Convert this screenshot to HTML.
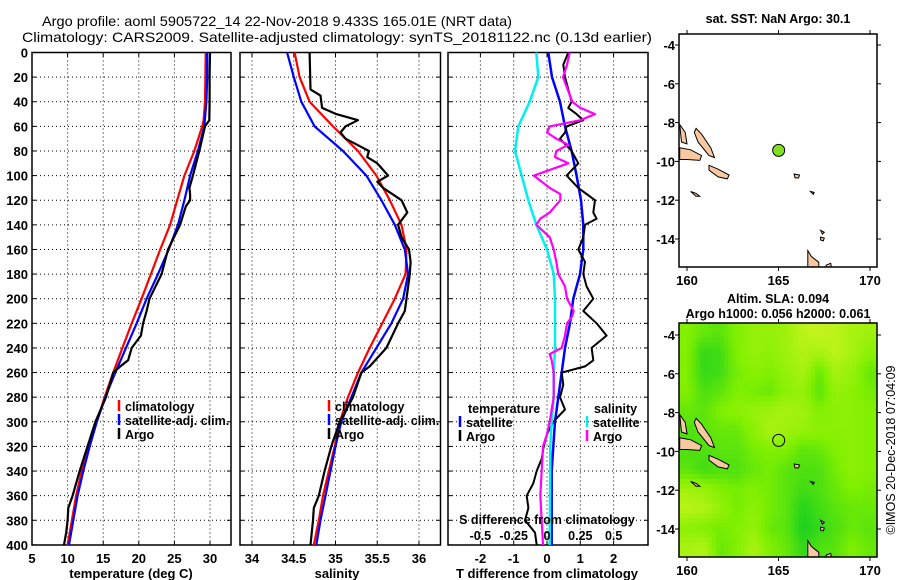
<!DOCTYPE html>
<html><head><meta charset="utf-8">
<style>
html,body{margin:0;padding:0;background:#fff;}
svg{display:block;font-family:"Liberation Sans",Arial,sans-serif;}
</style></head>
<body>
<svg id="fig" width="900" height="580" viewBox="0 0 900 580" xmlns="http://www.w3.org/2000/svg">
<text x="42" y="26" font-size="14" textLength="470" lengthAdjust="spacingAndGlyphs">Argo profile: aoml 5905722_14 22-Nov-2018 9.433S 165.01E (NRT data)</text>
<text x="22" y="42" font-size="14" textLength="630" lengthAdjust="spacingAndGlyphs">Climatology: CARS2009. Satellite-adjusted climatology: synTS_20181122.nc (0.13d earlier)</text>
<g id="g"></g>
</svg>
<script>
// ---------- DATA ----------
const depthTicks=[0,20,40,60,80,100,120,140,160,180,200,220,240,260,280,300,320,340,360,380,400];
const tempTicks=[5,10,15,20,25,30];
const salTicks=[34,34.5,35,35.5,36];
const salTickLabels=["34","34.5","35","35.5","36"];
const tdiffTicks=[-2,-1,0,1,2];
const sdiffTicks=[-0.5,-0.25,0,0.25,0.5];
const sdiffTickLabels=["-0.5","-0.25","0","0.25","0.5"];

const tClimDepth=[0,20,40,55,60,80,100,120,140,160,180,200,220,240,260,280,300,320,340,360,380,400];
const tClimVal=[29.4,29.35,29.3,29.1,28.9,27.8,26.4,25.4,24.4,23.0,21.7,20.4,19.0,17.7,16.4,15.2,14.1,13.0,12.0,11.2,10.6,10.0];
const tSatDepth=[0,20,40,60,80,100,120,140,160,180,200,220,240,260,280,300,320,340,360,380,400];
const tSatVal=[29.6,29.6,29.5,29.2,28.3,27.2,26.4,25.5,24.2,22.7,21.1,19.7,18.2,16.7,15.3,14.1,13.1,12.2,11.4,10.8,10.2];
const tArgoDepth=[0,20,40,55,60,80,100,110,115,120,125,140,160,180,200,210,220,230,240,250,255,260,280,300,320,340,350,360,370,380,390,400];
const tArgoVal=[30.0,29.95,29.95,29.9,29.3,28.5,27.6,27.1,27.2,27.2,26.6,25.8,24.1,23.2,21.5,21.1,20.6,20.3,19.0,18.5,17.4,16.4,15.4,13.9,12.8,11.7,11.2,10.7,10.1,10.0,9.8,9.5];

const sClimDepth=[0,20,40,60,80,100,120,140,160,180,200,220,240,260,280,300,320,340,360,380,400];
const sClimVal=[34.51,34.57,34.69,34.97,35.27,35.49,35.65,35.79,35.85,35.84,35.71,35.56,35.41,35.27,35.15,35.05,34.99,34.92,34.85,34.80,34.74];
const sSatDepth=[0,20,40,60,80,100,120,140,160,180,200,220,240,260,280,300,320,340,360,380,400];
const sSatVal=[34.42,34.50,34.59,34.75,35.09,35.37,35.55,35.71,35.83,35.87,35.81,35.67,35.49,35.31,35.19,35.07,35.00,34.94,34.88,34.82,34.77];
const sArgoDepth=[0,30,35,45,50,55,60,65,70,75,80,85,90,100,105,110,120,130,140,150,160,170,180,200,210,220,240,255,260,280,300,320,340,360,370,380,400];
const sArgoVal=[34.69,34.70,34.82,34.84,35.01,35.27,35.12,35.06,35.12,35.26,35.40,35.38,35.50,35.63,35.50,35.57,35.79,35.86,35.75,35.79,35.88,35.90,35.89,35.85,35.83,35.75,35.61,35.41,35.31,35.21,35.05,34.95,34.87,34.80,34.74,34.73,34.70];

const dtSatDepth=[0,20,40,60,80,100,120,140,160,180,200,220,240,260,280,300,320,340,400];
const dtSatVal=[0.04,0.15,0.39,0.54,0.74,0.89,1.02,1.09,1.09,0.99,0.79,0.69,0.54,0.44,0.34,0.24,0.19,0.14,0.14];
const dtArgoDepth=[0,10,20,30,40,45,50,55,60,65,70,80,90,100,110,120,130,135,140,150,160,170,180,190,200,210,220,230,240,250,255,260,270,280,290,300,310,320,330,340,350,360,370,380,390,400];
const dtArgoVal=[0.64,0.49,0.54,0.64,0.74,0.64,0.89,1.09,0.59,0.54,0.39,0.74,0.94,0.59,0.94,1.44,1.39,1.49,1.14,1.09,0.94,1.14,1.09,1.19,1.39,1.09,1.49,1.79,1.34,1.39,1.14,0.44,0.49,0.39,0.54,0.19,0.0,-0.1,-0.16,-0.31,-0.41,-0.61,-0.56,-0.66,-0.36,-0.31];
const dsSatDepth=[0,20,40,60,80,100,120,140,160,180,200,240,260,280,300,320,400];
const dsSatVal=[-0.08,-0.065,-0.13,-0.215,-0.24,-0.19,-0.14,-0.08,0.0,0.05,0.06,0.06,0.05,0.05,0.035,0.025,0.02];
const dsArgoDepth=[0,10,20,40,45,50,55,60,65,70,75,80,85,90,100,110,115,120,130,135,140,150,160,170,180,190,200,210,215,220,230,240,245,250,260,280,300,310,320,340,360,380,400];
const dsArgoVal=[0.17,0.15,0.12,0.19,0.25,0.36,0.25,0.02,0.0,0.07,0.16,0.07,0.06,0.16,-0.10,0.02,0.1,0.1,0.02,-0.05,-0.08,0.02,0.05,0.07,0.085,0.135,0.15,0.2,0.185,0.15,0.135,0.11,0.02,0.035,0.05,0.05,0.02,0.0,-0.03,-0.04,-0.05,-0.04,-0.03];

const lonTicks=[160,165,170];
const latTicks=[-4,-6,-8,-10,-12,-14];
const argoLon=165.01, argoLat=-9.433;
const slaGrid=[
[0.5,0.4,0.35,0.5,0.6,0.6,0.65,0.8,0.85,0.8,0.7,0.65],
[0.5,0.2,0.25,0.5,0.6,0.55,0.65,0.75,0.7,0.8,0.7,0.55],
[0.5,0.2,0.25,0.45,0.55,0.5,0.6,0.7,0.4,0.7,0.6,0.4],
[0.5,0.3,0.35,0.5,0.45,0.4,0.55,0.6,0.35,0.6,0.55,0.45],
[0.4,0.35,0.5,0.55,0.6,0.65,0.7,0.65,0.5,0.55,0.55,0.5],
[0.3,0.35,0.4,0.4,0.55,0.7,0.65,0.6,0.55,0.55,0.55,0.5],
[0.3,0.3,0.35,0.35,0.45,0.5,0.5,0.35,0.4,0.5,0.55,0.5],
[0.35,0.25,0.3,0.3,0.4,0.45,0.35,0.3,0.3,0.45,0.55,0.5],
[0.65,0.6,0.5,0.45,0.5,0.45,0.35,0.25,0.3,0.4,0.5,0.45],
[0.8,0.75,0.6,0.45,0.55,0.45,0.35,0.15,0.25,0.35,0.4,0.4],
[0.55,0.5,0.45,0.5,0.6,0.4,0.35,0.1,0.2,0.3,0.4,0.35],
[0.7,0.75,0.4,0.5,0.7,0.5,0.4,0.2,0.3,0.35,0.5,0.4]];
const islands=[
[[160.5,-8.3],[160.8,-8.6],[161.3,-9.3],[161.5,-9.8],[161.2,-9.7],[160.6,-9.0],[160.4,-8.5]],
[[159.6,-9.3],[160.2,-9.4],[160.8,-9.7],[160.7,-9.95],[160.0,-9.9],[159.6,-9.9]],
[[161.2,-10.2],[161.7,-10.4],[162.3,-10.7],[162.2,-10.9],[161.7,-10.8],[161.2,-10.45]],
[[159.6,-8.1],[159.9,-8.5],[160.0,-9.1],[159.7,-9.0]],
[[166.6,-14.6],[166.8,-14.9],[167.2,-15.2],[167.2,-15.5],[166.6,-15.5]],
[[167.6,-15.35],[167.85,-15.25],[167.9,-15.5],[167.6,-15.5]],
[[165.85,-10.65],[166.15,-10.7],[166.1,-10.85],[165.9,-10.85]],
[[166.75,-11.55],[166.95,-11.6],[166.9,-11.7]],
[[167.3,-13.9],[167.5,-13.95],[167.45,-14.1],[167.3,-14.05]],
[[167.3,-13.55],[167.5,-13.65],[167.4,-13.75]],
[[160.2,-11.55],[160.5,-11.65],[160.7,-11.8],[160.5,-11.8]]];

// ---------- DRAW ----------
const NS='http://www.w3.org/2000/svg';
const G=document.getElementById('g');
function el(tag,attrs,parent){const e=document.createElementNS(NS,tag);for(const k in attrs)e.setAttribute(k,attrs[k]);(parent||G).appendChild(e);return e;}
const yD=d=>52.5+d*1.231;
const Y0=52.5,Y1=545;

function panel(name,x0,x1,xs,ticks,labels,showY){
  const g=el('g',{});
  
  
  ticks.forEach(v=>{const x=xs(v);
    const l=el('line',{x1:x,x2:x,y1:Y0,y2:Y1,stroke:'#000','stroke-width':1,'stroke-dasharray':'1 3'},g);
    
    el('line',{x1:x,x2:x,y1:Y1,y2:Y1-4,stroke:'#000'},g);el('line',{x1:x,x2:x,y1:Y0,y2:Y0+4,stroke:'#000'},g);});
  depthTicks.forEach(d=>{const y=yD(d);
    if(d>0&&d<400){const l=el('line',{x1:x0,x2:x1,y1:y,y2:y,stroke:'#000','stroke-width':1,'stroke-dasharray':'1 3'},g);
    }
    el('line',{x1:x0,x2:x0+4,y1:y,y2:y,stroke:'#000'},g);el('line',{x1:x1,x2:x1-4,y1:y,y2:y,stroke:'#000'},g);
    if(showY){const t=el('text',{x:x0-4,y:y+5,'font-size':13,'font-weight':'bold','text-anchor':'end'},g);t.textContent=d;
      }});
  if(labels) ticks.forEach((v,i)=>{const t=el('text',{x:xs(v),y:563,'font-size':13,'font-weight':'bold','text-anchor':'middle'},g);t.textContent=labels[i];
    });
  const r=el('rect',{x:x0,y:Y0,width:x1-x0,height:Y1-Y0,fill:'none',stroke:'#000','stroke-width':1.5},g);
  
  return g;
}
function series(g,name,depths,vals,xs,color,w){
  const pts=depths.map((d,i)=>xs(vals[i]).toFixed(1)+','+yD(d).toFixed(1)).join(' ');
  const p=el('polyline',{points:pts,fill:'none',stroke:color,'stroke-width':w||2.2,'stroke-linejoin':'round'},g);
  
}
function label(g,name,txt,x,y,size,anchor,extra){
  const t=el('text',Object.assign({x:x,y:y,'font-size':size,'font-weight':'bold','text-anchor':anchor||'start'},extra||{}),g);t.textContent=txt;
  return t;
}
function legendItem(g,name,x,y,color,txt){
  const lg=el('g',{},g);
  
  el('line',{x1:x,x2:x,y1:y-11,y2:y,stroke:color,'stroke-width':2.5},lg);
  label(lg,name+'-text',txt,x+6,y,12.5,'start');
}

// Panel 1 temperature
const xT=v=>32+(v-5)*7.12;
const p1=panel('temperature-panel',32,231,xT,tempTicks,tempTicks.map(String),true);
series(p1,'temp-climatology-line',tClimDepth,tClimVal,xT,'#ff0000');
series(p1,'temp-satellite-line',tSatDepth,tSatVal,xT,'#0000ff');
series(p1,'temp-argo-line',tArgoDepth,tArgoVal,xT,'#000000');
label(p1,'x-axis-title','temperature (deg C)',131,578,13,'middle');
legendItem(p1,'legend-climatology',119,411,'#ff0000','climatology');
legendItem(p1,'legend-satellite-adj',119,425,'#0000ff','satellite-adj. clim.');
legendItem(p1,'legend-argo',119,439,'#000000','Argo');

// Panel 2 salinity
const xS=v=>252+(v-34)*83.5;
const p2=panel('salinity-panel',240,440.5,xS,salTicks,salTickLabels,false);
series(p2,'sal-climatology-line',sClimDepth,sClimVal,xS,'#ff0000');
series(p2,'sal-satellite-line',sSatDepth,sSatVal,xS,'#0000ff');
series(p2,'sal-argo-line',sArgoDepth,sArgoVal,xS,'#000000');
label(p2,'x-axis-title','salinity',337,578,13,'middle');
legendItem(p2,'legend-climatology',329,411,'#ff0000','climatology');
legendItem(p2,'legend-satellite-adj',329,425,'#0000ff','satellite-adj. clim.');
legendItem(p2,'legend-argo',329,439,'#000000','Argo');

// Panel 3 differences
const xDT=v=>547+v*33.3;
const xDS=v=>547+v*133.3;
const p3=panel('difference-panel',448,648,xDT,tdiffTicks,tdiffTicks.map(String),false);
series(p3,'tdiff-satellite-line',dtSatDepth,dtSatVal,xDT,'#0000ff',2.5);
series(p3,'tdiff-argo-line',dtArgoDepth,dtArgoVal,xDT,'#000000',2);
series(p3,'sdiff-satellite-line',dsSatDepth,dsSatVal,xDS,'#00f0f0',2.5);
series(p3,'sdiff-argo-line',dsArgoDepth,dsArgoVal,xDS,'#ff00ff',2.2);
label(p3,'x-axis-title','T difference from climatology',547,578,13,'middle');
label(p3,'s-axis-title','S difference from climatology',547,524,12.5,'middle');
sdiffTicks.forEach((v,i)=>{label(p3,'s-tick-label',sdiffTickLabels[i],xDS(v),540,12.5,'middle');});
label(p3,'legend-temperature-heading','temperature',468,413,12.5,'start');
legendItem(p3,'legend-t-satellite',460,427,'#0000ff','satellite');
legendItem(p3,'legend-t-argo',460,441,'#000000','Argo');
label(p3,'legend-salinity-heading','salinity',594,413,12.5,'start');
legendItem(p3,'legend-s-satellite',587,427,'#00f0f0','satellite');
legendItem(p3,'legend-s-argo',587,441,'#ff00ff','Argo');

// Maps
const MX0=679,MX1=877;
const lonX=l=>687+(l-160)*18.3;
function slaColor(v){
  const c0=[0,200,40],c1=[130,240,0],c2=[225,245,40];
  let a,b,t; if(v<0.5){a=c0;b=c1;t=v/0.5;}else{a=c1;b=c2;t=(v-0.5)/0.5;}
  t=Math.max(0,Math.min(1,t));
  return 'rgb('+a.map((x,i)=>Math.round(x+(b[i]-x)*t)).join(',')+')';
}
function sampleSla(fr,fc){
  const rows=slaGrid.length,cols=slaGrid[0].length;
  fr=Math.max(0,Math.min(rows-1,fr));fc=Math.max(0,Math.min(cols-1,fc));
  const r0=Math.floor(fr),c0=Math.floor(fc),r1=Math.min(rows-1,r0+1),c1=Math.min(cols-1,c0+1);
  const tr=fr-r0,tc=fc-c0;
  const a=slaGrid[r0][c0]*(1-tc)+slaGrid[r0][c1]*tc, b=slaGrid[r1][c0]*(1-tc)+slaGrid[r1][c1]*tc;
  return a*(1-tr)+b*tr;
}
function map(name,top,bot,lat4y,heat){
  const latY=l=>lat4y+(-4-l)*19.4;
  const g=el('g',{});
  
  const cp=el('clipPath',{id:name+'-clip'},g);el('rect',{x:MX0,y:top,width:MX1-MX0,height:bot-top},cp);
  const inner=el('g',{'clip-path':'url(#'+name+'-clip)'},g);
  if(heat){
    const rows=slaGrid.length,cols=slaGrid[0].length,S=4;
    const cw=(MX1-MX0)/(cols*S),rh=(bot-top)/(rows*S);
    for(let r=0;r<rows*S;r++)for(let c=0;c<cols*S;c++){
      const v=sampleSla((r+0.5)/S-0.5,(c+0.5)/S-0.5);
      const cell=el('rect',{x:(MX0+c*cw).toFixed(2),y:(top+r*rh).toFixed(2),width:(cw+0.6).toFixed(2),height:(rh+0.6).toFixed(2),fill:slaColor(v)},inner);
      
      
    }
  }
  islands.forEach(poly=>{
    const p=el('polygon',{points:poly.map(q=>lonX(q[0]).toFixed(1)+','+latY(q[1]).toFixed(1)).join(' '),fill:'#f8c8a0',stroke:'#000','stroke-width':1},inner);
    });
  const dot=el('circle',{cx:lonX(argoLon),cy:latY(argoLat),r:6,fill:heat?'none':'#80e020',stroke:'#000','stroke-width':1},g);
  
  el('rect',{x:MX0,y:top,width:MX1-MX0,height:bot-top,fill:'none',stroke:'#000','stroke-width':1.5},g);
  lonTicks.forEach(l=>{const x=lonX(l);el('line',{x1:x,x2:x,y1:top,y2:top-4,stroke:'#000'},g);el('line',{x1:x,x2:x,y1:bot,y2:bot+4,stroke:'#000'},g);
    label(g,'lon-tick-label',String(l),x,bot+18,13,'middle');});
  latTicks.forEach(l=>{const y=latY(l);el('line',{x1:MX0,x2:MX0-4,y1:y,y2:y,stroke:'#000'},g);el('line',{x1:MX1,x2:MX1+4,y1:y,y2:y,stroke:'#000'},g);
    label(g,'lat-tick-label',String(l),MX0-4,y+5,13,'end');});
  return g;
}
const m1=map('sst-map',34,267,45,false);
label(m1,'sst-map-title','sat. SST: NaN Argo: 30.1',778,23,12.5,'middle');
const m2=map('sla-map',323,557,335,true);
label(m2,'sla-map-title-1','Altim. SLA: 0.094',778,303,12.5,'middle');
label(m2,'sla-map-title-2','Argo h1000: 0.056 h2000: 0.061',778,318,12.5,'middle');
const ts=el('text',{x:0,y:0,'font-size':12.5,'text-anchor':'middle',transform:'translate(895,450) rotate(-90)'});
ts.textContent='©IMOS 20-Dec-2018 07:04:09';


</script>
</body></html>
